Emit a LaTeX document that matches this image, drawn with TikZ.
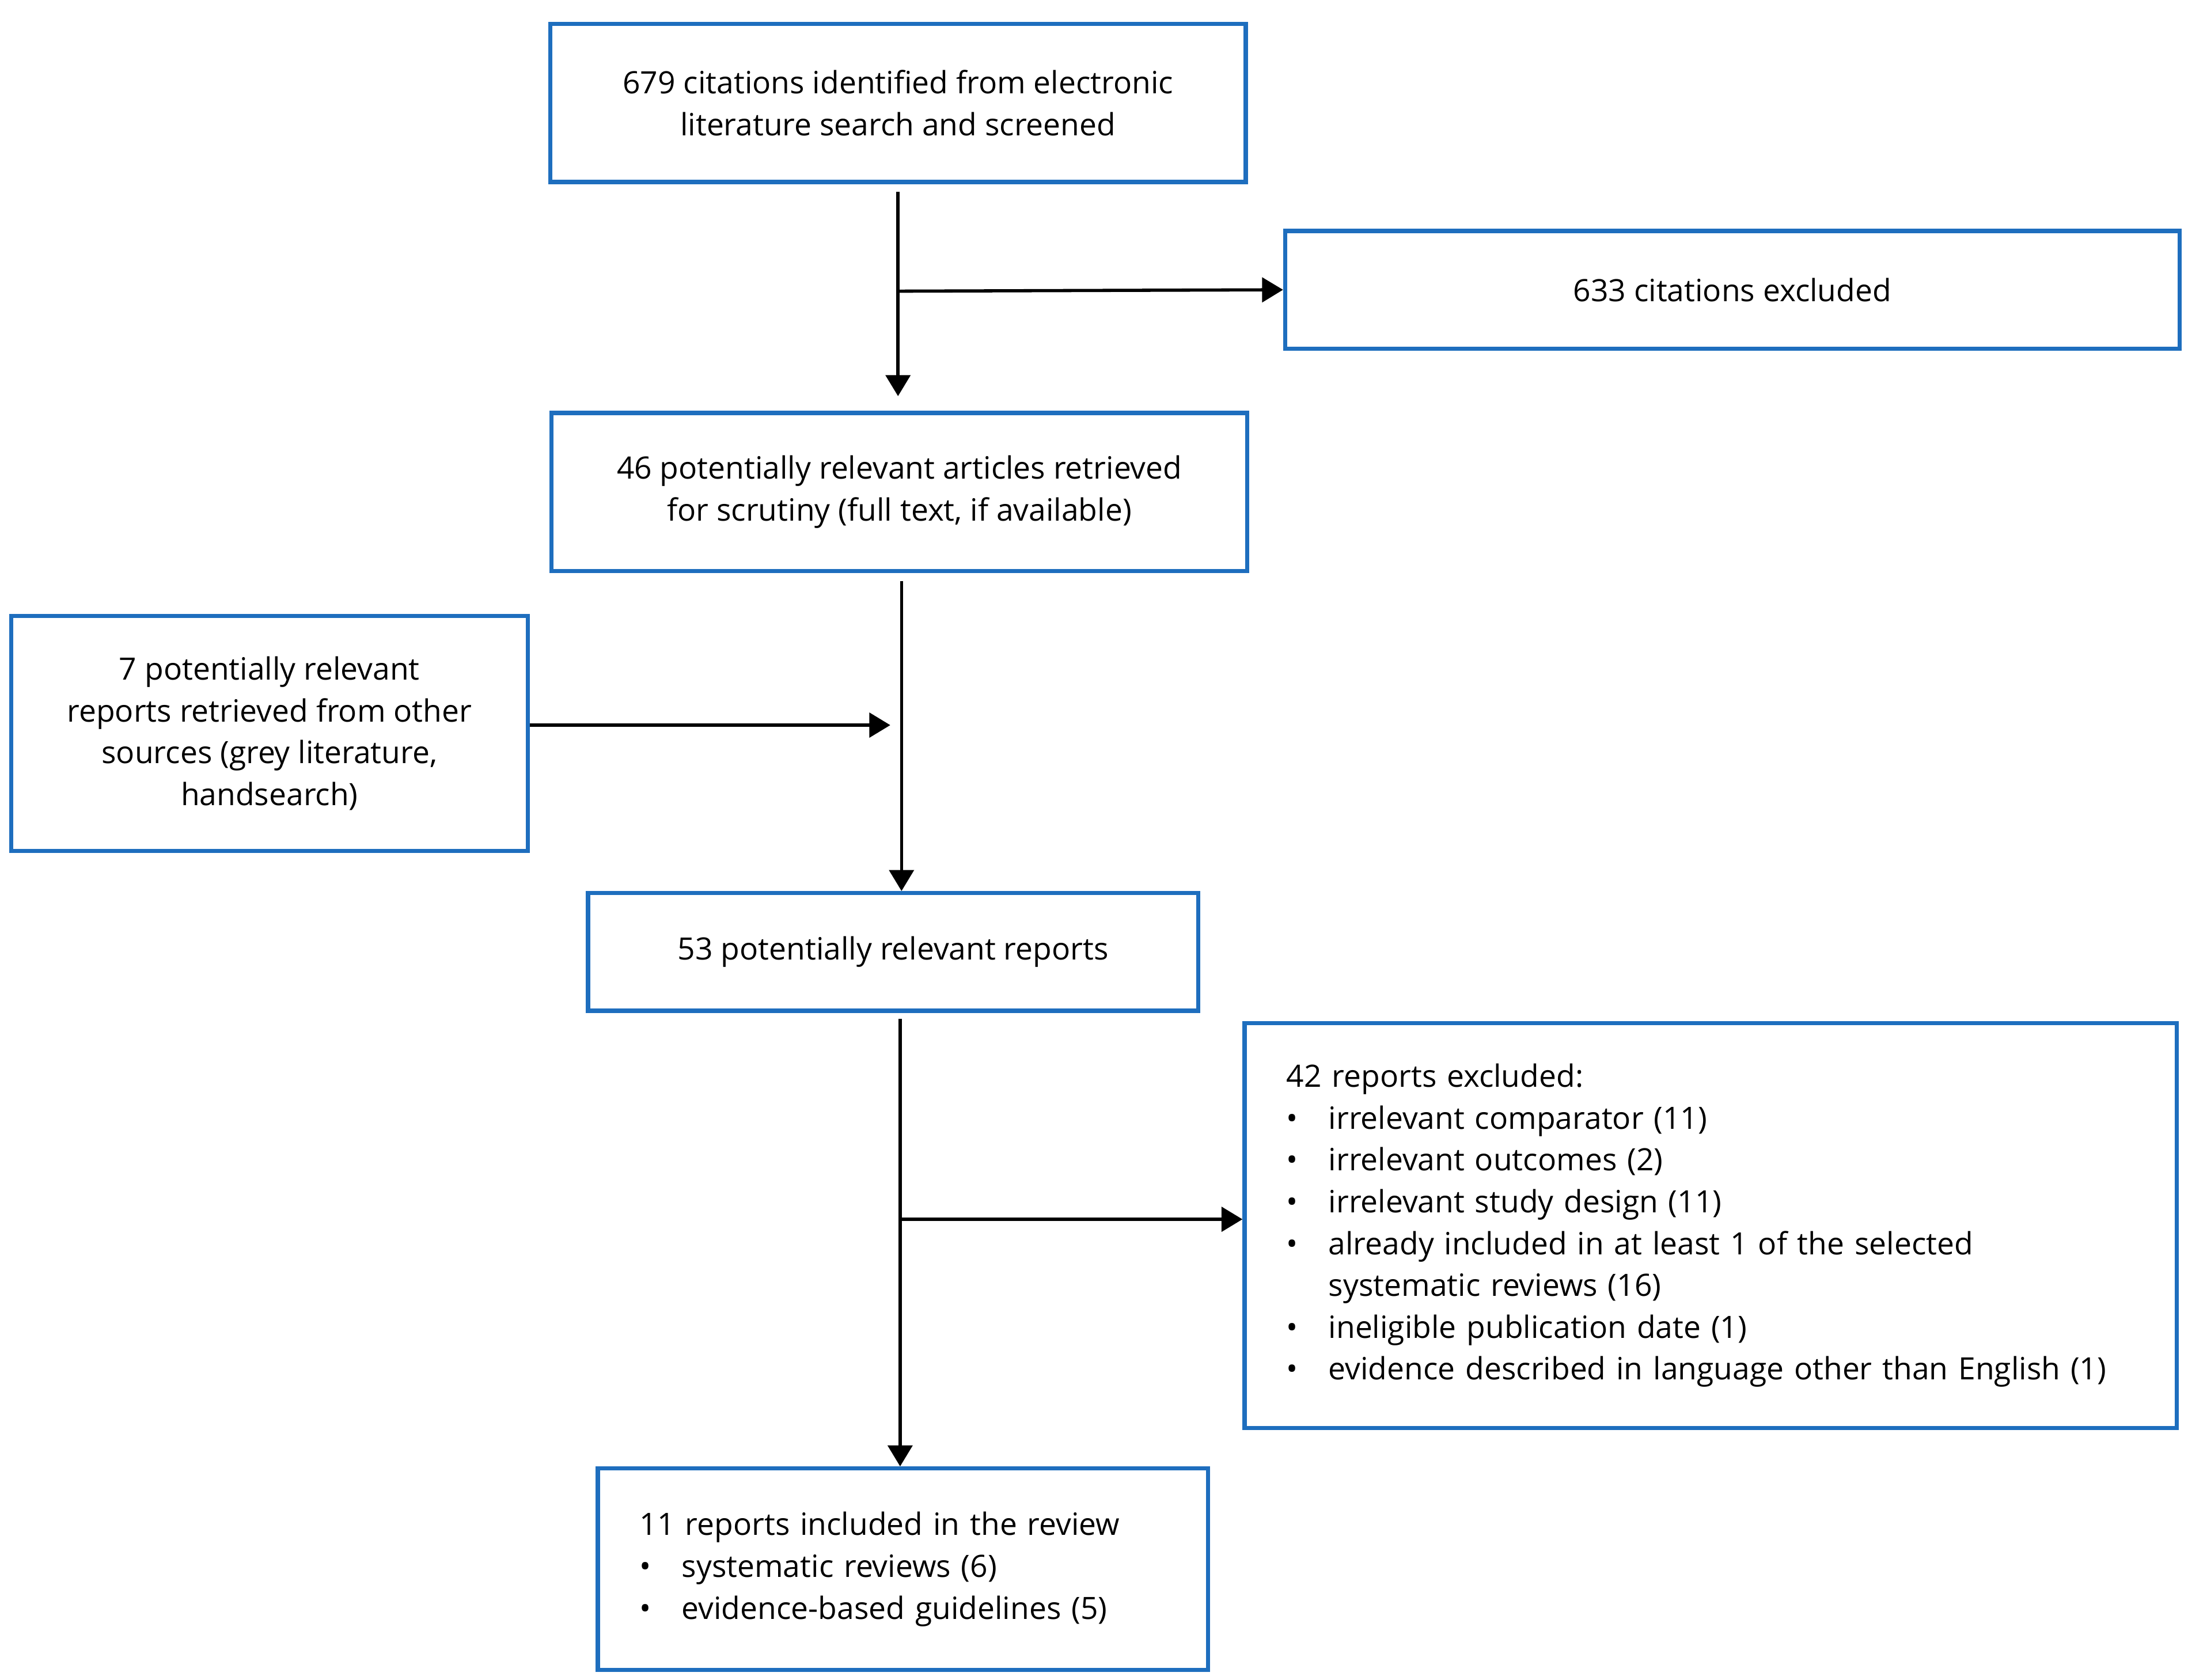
\documentclass[tikz,border=0pt]{standalone}
\usepackage{fontspec}
\setmainfont{Open Sans}
\usetikzlibrary{arrows.meta,positioning}
\newcommand{\itm}{\makebox[0.6cm][l]{\textbullet}}
\newcommand{\cnt}{\makebox[0.6cm][l]{}}
\definecolor{boxblue}{RGB}{30,110,190}

\begin{document}
\begin{tikzpicture}[x=0.02cm,y=-0.02cm,
  box/.style={rectangle, draw=boxblue, line width=1.7pt,
              font=\fontsize{12.5}{17}\selectfont, align=center, inner sep=0pt},
  lbox/.style={box, align=left, inner xsep=0.6cm},
  arr/.style={-{Triangle[length=3mm,width=3.5mm]}, line width=1.3pt},
  ln/.style={line width=1.3pt},
]
  \useasboundingbox (0,0) rectangle (1563,1200);
  \node[box, minimum width=9.94cm, minimum height=2.26cm] (cite) at (641.5,73.5)
    {679 citations identified from electronic\\literature search and screened};
  \node[box, minimum width=12.78cm, minimum height=1.68cm] (excl) at (1237.5,207)
    {633 citations excluded};
  \node[box, minimum width=9.94cm, minimum height=2.26cm] (retr) at (642.5,351.5)
    {46 potentially relevant articles retrieved\\for scrutiny (full text, if available)};
  \node[box, minimum width=7.38cm, minimum height=3.36cm] (other) at (192.5,524)
    {7 potentially relevant\\reports retrieved from other\\sources (grey literature,\\handsearch)};
  \node[box, minimum width=8.72cm, minimum height=1.68cm] (pot) at (638,680)
    {53 potentially relevant reports};
  \node[lbox, minimum width=13.32cm, minimum height=5.78cm, text width=12.12cm] (rexcl) at (1222,875.5)
    {42 reports excluded:\\
     \itm irrelevant comparator (11)\\
     \itm irrelevant outcomes (2)\\
     \itm irrelevant study design (11)\\
     \itm already included in at least 1 of the selected\\
     \cnt systematic reviews (16)\\
     \itm ineligible publication date (1)\\
     \itm evidence described in language other than English (1)};
  \node[lbox, minimum width=8.72cm, minimum height=2.88cm, text width=7.52cm] (incl) at (645,1121)
    {11 reports included in the review\\
     \itm systematic reviews (6)\\
     \itm evidence-based guidelines (5)};

  \coordinate (j1) at (642,208);
  \coordinate (j2) at (644,518);
  \coordinate (j3) at (643,871);
  \draw[arr] (cite.south |- 0,137) -- (cite.south |- 0,283);
  \draw[ln] (j1) -- (j1);
  \draw[arr] (j1) -- (excl.west);
  \draw[arr] (644,415) -- (pot.north -| 644,0);
  \draw[arr] (other.east |- j2) -- (636,518);
  \draw[arr] (643,728) -- (incl.north -| 643,0);
  \draw[arr] (j3) -- (rexcl.west |- j3);
\end{tikzpicture}
\end{document}
